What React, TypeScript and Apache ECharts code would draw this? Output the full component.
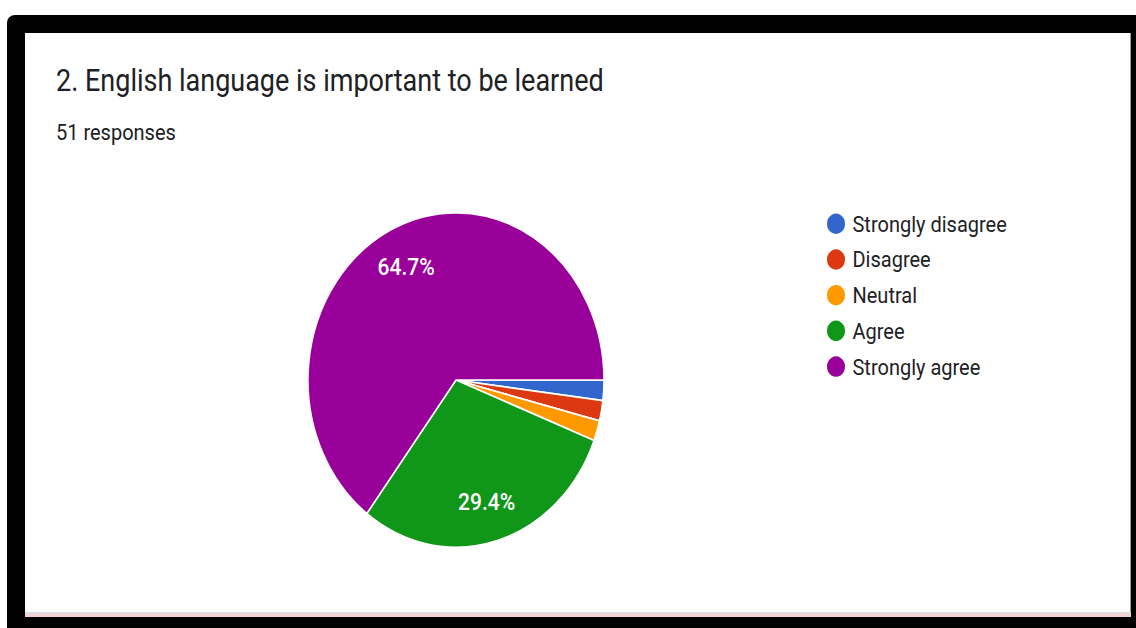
import React, { useEffect, useRef } from "react";
import * as echarts from "echarts";

const titleText = "2. English language is important to be learned";
const subtitleText = "51 responses";
const categories = ["Strongly disagree", "Disagree", "Neutral", "Agree", "Strongly agree"];
const counts = [1, 1, 1, 15, 33];
const colors = ["#3366cc", "#dc3912", "#ff9900", "#109618", "#990099"];

const SY = 1.13; // vertical stretch of the reference picture
const W = 1136;
const H = 628;

export default function App() {
  const ref = useRef<HTMLDivElement>(null);

  useEffect(() => {
    if (!ref.current) return;
    const chart = echarts.init(ref.current, null, { renderer: "svg" });
    const data = categories.map((name, i) => ({ name, value: counts[i], itemStyle: { color: colors[i] } }));
    const total = counts.reduce((a, b) => a + b, 0);
    const font = "Roboto, 'Noto Sans', Arial, sans-serif";
    chart.setOption({
      animation: false,
      backgroundColor: "transparent",
      title: [
        {
          text: titleText,
          left: 51,
          top: 52.5,
          textStyle: { fontFamily: font, fontSize: 27, lineHeight: 27, fontWeight: "normal", color: "#202124" },
        },
        {
          text: subtitleText,
          left: 51,
          top: 102,
          textStyle: { fontFamily: font, fontSize: 20, lineHeight: 20, fontWeight: "normal", color: "#202124" },
        },
      ],
      legend: {
        orient: "vertical",
        left: 820,
        top: 182,
        icon: "circle",
        itemWidth: 23,
        itemHeight: 20,
        itemGap: 9.6,
        selectedMode: false,
        data: categories.map((name, i) => ({ name, itemStyle: { color: colors[i] } })),
        textStyle: { fontFamily: font, fontSize: 20, lineHeight: 20, color: "#202124", padding: [0, 0, 0, 0] },
      },
      series: [
        {
          type: "pie",
          center: [456, 336.3],
          radius: [0, 148],
          startAngle: 0,
          clockwise: true,
          silent: true,
          percentPrecision: 1,
          itemStyle: { borderColor: "#ffffff", borderWidth: 1.5 },
          label: { show: false },
          labelLine: { show: false },
          emphasis: { disabled: true },
          data,
        },
        {
          type: "pie",
          center: [456, 336.3],
          radius: [0, 218],
          startAngle: 0,
          clockwise: true,
          silent: true,
          percentPrecision: 1,
          z: 5,
          itemStyle: { color: "transparent", borderWidth: 0 },
          labelLine: { show: false },
          emphasis: { disabled: true },
          label: {
            show: true,
            position: "inside",
            fontFamily: font,
            fontSize: 21,
            fontWeight: 500,
            color: "#ffffff",
            formatter: (p: any) => (p.value / total >= 0.05 ? p.percent.toFixed(1) + "%" : ""),
          },
          data: categories.map((name, i) => ({ name, value: counts[i], itemStyle: { color: "transparent" } })),
        },
      ],
    });
    return () => chart.dispose();
  }, []);

  return (
    <div style={{ position: "fixed", left: 0, top: 0, width: W, height: H, overflow: "hidden", background: "#ffffff" }}>
      <div
        style={{
          position: "absolute",
          left: 7,
          top: 15,
          width: W,
          height: H,
          background: "#000000",
          borderTopLeftRadius: 8,
        }}
      />
      <div style={{ position: "absolute", left: 25, top: 33, width: 1105, height: 579, background: "#ffffff", borderRight: "1px solid #9a9a9a" }} />
      <div style={{ position: "absolute", left: 25, top: 612, width: 1106, height: 2, background: "#dddddd" }} />
      <div style={{ position: "absolute", left: 25, top: 614, width: 1106, height: 3, background: "#f6d2d2" }} />
      <div
        ref={ref}
        style={{
          position: "absolute",
          left: 0,
          top: 0,
          width: W,
          height: Math.round(H / SY),
          transform: `scaleY(${SY})`,
          transformOrigin: "0 0",
        }}
      />
    </div>
  );
}
